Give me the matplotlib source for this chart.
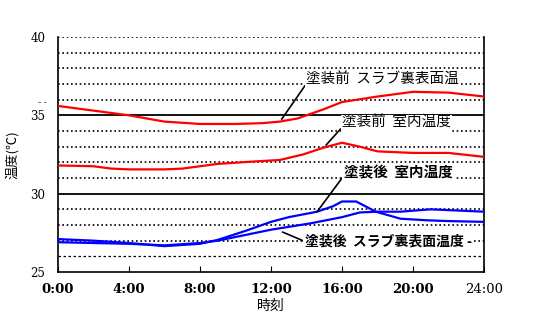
import matplotlib
matplotlib.use('Agg')
import matplotlib.pyplot as plt

plt.rcParams['font.family'] = ['Noto Sans CJK JP', 'DejaVu Sans']

# hours of day and temperatures
hours_pre_slab = [0, 2, 4, 6, 8, 10, 11.5, 12.5, 13.5, 15, 16, 18, 20, 22, 24]
pre_slab = [35.6, 35.3, 35.0, 34.6, 34.45, 34.45, 34.5, 34.6, 34.8, 35.4, 35.85, 36.2, 36.5, 36.45, 36.2]

hours_pre_room = [0, 2, 3, 4, 6, 7, 8, 9, 11, 12.5, 13.8, 15, 16, 17, 18, 20, 22, 24]
pre_room = [31.8, 31.75, 31.6, 31.55, 31.55, 31.6, 31.75, 31.9, 32.05, 32.15, 32.5, 32.95, 33.25, 33.0, 32.7, 32.6, 32.6, 32.35]

hours_post_room = [0, 2, 4, 6, 8, 9, 10.5, 12, 13, 14.6, 15.5, 16, 16.8, 17.9, 19.3, 20.8, 22, 24]
post_room = [27.1, 27.0, 26.85, 26.65, 26.8, 27.05, 27.6, 28.2, 28.5, 28.85, 29.2, 29.5, 29.5, 28.85, 28.4, 28.3, 28.25, 28.2]

hours_post_slab = [0, 2, 4, 6, 8, 9, 10.5, 12, 14.2, 16, 17, 18, 19.3, 21, 22, 24]
post_slab = [26.9, 26.85, 26.8, 26.7, 26.85, 27.0, 27.35, 27.7, 28.1, 28.5, 28.8, 28.85, 28.85, 29.0, 28.95, 28.85]

xticks = [0, 4, 8, 12, 16, 20, 24]
xticklabels = ['0:00', '4:00', '8:00', '12:00', '16:00', '20:00', '24:00']
yticks = [25, 30, 35, 40]

fig = plt.figure(figsize=(5.44, 3.22), dpi=100)
ax = fig.add_axes([0.1066, 0.1553, 0.7831, 0.7298])

# grid lines, solid at 30 and 35
for v in range(26, 41):
    if v in (30, 35):
        ax.axhline(v, color='black', lw=1.3, zorder=1)
    elif v == 26:
        ax.axhline(v, color='black', lw=0.9, ls=(0, (2, 2)), zorder=1)
    else:
        ax.axhline(v, color='black', lw=1.2, ls=(0, (1, 1.6)), zorder=1)

ax.plot(hours_pre_slab, pre_slab, color='#ff0000', lw=1.6, zorder=3)
ax.plot(hours_pre_room, pre_room, color='#ff0000', lw=1.6, zorder=3)
ax.plot(hours_post_room, post_room, color='#0000ff', lw=1.6, zorder=3)
ax.plot(hours_post_slab, post_slab, color='#0000ff', lw=1.6, zorder=3)

ax.set_xlim(0, 24)
ax.set_ylim(25, 40)
ax.set_xticks(xticks)
ax.set_xticklabels(xticklabels, fontsize=9.5, fontweight='bold', family=['DejaVu Serif'])
last = ax.get_xticklabels()[-1]
last.set_fontweight('normal')
ax.set_yticks(yticks)
ax.set_yticklabels([str(v) for v in yticks], fontsize=8.5, family=['DejaVu Serif'])
ax.tick_params(axis='x', direction='in', length=4, pad=8)
ax.tick_params(axis='y', length=0, pad=9)
ax.spines['top'].set_visible(False)
for s in ('left', 'bottom', 'right'):
    ax.spines[s].set_linewidth(1.2)

ax.set_xlabel('時刻', fontsize=10, labelpad=2)
ax.set_ylabel('温度(℃)', fontsize=9.5, labelpad=8)

# stray marks seen in the original
ax.text(-0.027, 35.8, '- -', transform=ax.get_yaxis_transform(), ha='right', va='center',
        fontsize=7, color='#555555')

box = dict(boxstyle='square,pad=0.1', fc='white', ec='none')
arrow = dict(arrowstyle='-', color='black', lw=1.2, shrinkA=0, shrinkB=0)

# callout labels with leader lines
ax.annotate('塗装前  スラブ裏表面温', xy=(12.6, 34.75), xytext=(14.0, 37.3),
            fontsize=10.5, ha='left', va='center', bbox=box, zorder=4,
            arrowprops=dict(arrow, relpos=(0, 0.2)))
ax.annotate('塗装前  室内温度', xy=(15.1, 33.1), xytext=(16.0, 34.5),
            fontsize=10.5, ha='left', va='center', bbox=box, zorder=4,
            arrowprops=dict(arrow, relpos=(0, 0.2)))
ax.annotate('塗装後  室内温度', xy=(14.6, 28.85), xytext=(16.1, 31.35),
            fontsize=10.5, fontweight='bold', ha='left', va='center', bbox=box, zorder=4,
            arrowprops=dict(arrow, relpos=(0, 0.3)))
ax.annotate('塗装後  スラブ裏表面温度 -', xy=(12.65, 27.55), xytext=(13.9, 26.95),
            fontsize=10, fontweight='bold', ha='left', va='center', bbox=box, zorder=4,
            arrowprops=dict(arrow, relpos=(0, 0.5)))

fig.savefig('out.png', dpi=100)
